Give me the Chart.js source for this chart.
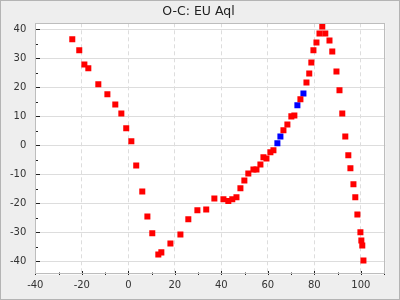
<!DOCTYPE html>
<html>
<head>
<meta charset="utf-8">
<script src="https://cdn.jsdelivr.net/npm/chart.js@4/dist/chart.umd.min.js"></script>
<style>
html,body{margin:0;padding:0;background:#eeeeee;}
#wrap{width:400px;height:300px;position:relative;}
</style>
</head>
<body>
<div id="wrap"><canvas id="c" width="400" height="300"></canvas></div>
<script>
// ---- data ----
const chartTitle = 'O-C: EU Aql';
const redX = [-24.1,-21.1,-18.9,-17.2,-12.9,-9.0,-5.6,-3.0,-0.9,1.3,3.4,6.0,8.2,10.3,12.9,14.2,18.1,22.4,25.8,29.7,33.5,37.0,40.9,43.0,44.7,46.5,48.2,49.9,51.6,53.8,55.1,56.8,58.1,59.4,61.1,62.4,66.7,68.4,70.1,71.4,74.0,76.6,77.8,78.7,79.6,80.9,82.2,83.4,84.7,86.5,87.7,89.5,90.8,92.0,93.3,94.6,95.5,96.8,97.6,98.5,99.8,100.2,100.6,101.1];
const redY = [36.6,32.8,27.9,26.6,21.1,17.6,14.1,11.0,5.9,1.4,-6.9,-15.9,-24.5,-30.3,-37.6,-36.9,-33.8,-30.7,-25.5,-22.4,-22.1,-18.3,-18.6,-19.2,-18.6,-17.9,-14.8,-12.1,-9.7,-8.3,-8.3,-6.6,-4.1,-4.5,-2.4,-1.7,5.2,7.2,10.0,10.3,15.9,21.7,24.8,28.6,32.8,35.5,38.6,41.0,38.6,36.2,32.4,25.5,19.0,11.0,3.1,-3.4,-7.9,-13.4,-17.9,-23.8,-30.0,-32.8,-34.5,-39.7];
const blueX = [64.1,65.4,72.7,75.3];
const blueY = [0.7,3.1,13.8,17.9];
const xMajorTicks = [-40,-20,0,20,40,60,80,100];
const xMinorTicks = [-30,-10,10,30,50,70,90,110];
const yMajorTicks = [-40,-30,-20,-10,0,10,20,30,40];
const yMinorTicks = [-35,-25,-15,-5,5,15,25,35];

const toPts = (xs, ys) => xs.map((x, i) => ({x: x, y: ys[i]}));

const frame = {
  id: 'frame',
  beforeDraw(chart) {
    const ctx = chart.ctx, a = chart.chartArea;
    ctx.save();
    ctx.fillStyle = '#eeeeee';
    ctx.fillRect(0, 0, chart.width, chart.height);
    ctx.strokeStyle = '#b4b4b4';
    ctx.lineWidth = 1;
    ctx.strokeRect(0.5, 0.5, chart.width - 1, chart.height - 1);
    ctx.fillStyle = '#ffffff';
    ctx.fillRect(a.left, a.top, a.right - a.left, a.bottom - a.top);
    // title
    ctx.fillStyle = '#222222';
    ctx.font = '12.5px "DejaVu Sans"';
    ctx.textAlign = 'center';
    ctx.textBaseline = 'middle';
    ctx.fillText(chartTitle, 198.5, 11.5);
    ctx.restore();
  },
  afterDraw(chart) {
    const ctx = chart.ctx, a = chart.chartArea;
    const xs = chart.scales.x, ys = chart.scales.y;
    ctx.save();
    ctx.strokeStyle = '#222222';
    ctx.lineWidth = 1;
    ctx.beginPath();
    const L = Math.round(a.left), B = Math.round(a.bottom);
    yMajorTicks.forEach(v => { const p = Math.round(ys.getPixelForValue(v)) + 0.5; ctx.moveTo(L, p); ctx.lineTo(L + 5, p); });
    yMinorTicks.forEach(v => { const p = Math.round(ys.getPixelForValue(v)) + 0.5; ctx.moveTo(L, p); ctx.lineTo(L + 3, p); });
    xMajorTicks.forEach(v => { const p = Math.round(xs.getPixelForValue(v)) + 0.5; ctx.moveTo(p, B); ctx.lineTo(p, B - 4); });
    xMinorTicks.forEach(v => { const p = Math.round(xs.getPixelForValue(v)) + 0.5; ctx.moveTo(p, B); ctx.lineTo(p, B - 2.5); });
    ctx.stroke();
    ctx.strokeStyle = '#bdbdbd';
    ctx.strokeRect(Math.round(a.left) + 0.5, Math.round(a.top) + 0.5, Math.round(a.right - a.left) - 1, Math.round(a.bottom - a.top) - 1);
    ctx.restore();
  }
};

new Chart(document.getElementById('c'), {
  type: 'scatter',
  data: {
    datasets: [
      { data: toPts(redX, redY), backgroundColor: '#ff0000', borderColor: '#ff0000', borderWidth: 0, pointStyle: 'rect', pointRadius: 4.25, pointHoverRadius: 4.25 },
      { data: toPts(blueX, blueY), backgroundColor: '#0000ff', borderColor: '#0000ff', borderWidth: 0, pointStyle: 'rect', pointRadius: 4.25, pointHoverRadius: 4.25 }
    ]
  },
  options: {
    responsive: false,
    animation: false,
    events: [],
    layout: { padding: { left: 0, right: 14.7, top: 23.3, bottom: 0 } },
    plugins: {
      legend: { display: false },
      tooltip: { enabled: false },
      title: { display: false }
    },
    scales: {
      x: {
        type: 'linear',
        min: -40, max: 110.5,
        afterFit: s => { s.height = 25.3; },
        ticks: { stepSize: 20, includeBounds: false, padding: 5, color: '#333333', font: { family: 'DejaVu Sans', size: 10 } },
        grid: { color: '#dddddd', lineWidth: 1, drawTicks: false, borderDash: [4, 3] },
        border: { display: false, dash: [4, 3] }
      },
      y: {
        type: 'linear',
        min: -44.6, max: 42.1,
        afterFit: s => { s.width = 35.3; },
        ticks: { stepSize: 10, includeBounds: false, padding: 9, color: '#333333', font: { family: 'DejaVu Sans', size: 10 } },
        grid: { color: '#dddddd', lineWidth: 1, drawTicks: false },
        border: { display: false }
      }
    }
  },
  plugins: [frame]
});
</script>
</body>
</html>
